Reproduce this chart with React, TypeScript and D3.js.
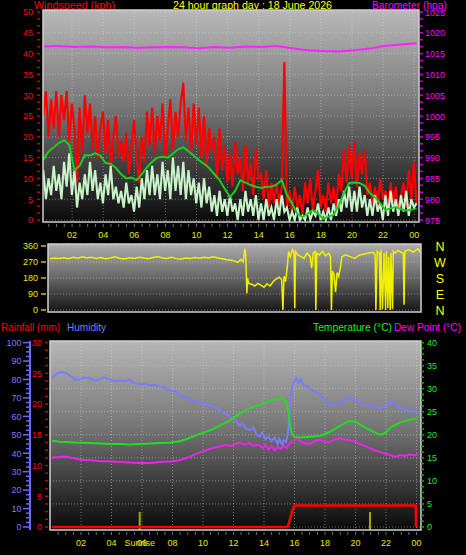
import React from "react";
import * as d3 from "d3";

// ---------- DATA ----------
// Top panel, 10-minute samples starting 00:09
const GUST_KPH = [
  25, 31, 20, 29, 22, 31, 20, 30, 24, 31, 19, 28, 22, 9, 27, 16, 30, 21,
  28, 17, 25, 15, 22, 26, 16, 24, 12, 20, 25, 15, 19, 14, 21, 11, 18, 24,
  15, 9, 20, 14, 26, 18, 27, 16, 25, 19, 28, 15, 22, 29, 17, 26, 20, 28,
  33, 19, 27, 16, 28, 18, 27, 15, 25, 13, 22, 17, 20, 10, 22, 12, 18, 9,
  16, 8, 19, 11, 15, 7, 18, 9, 14, 6, 17, 10, 11, 5, 12, 3, 9, 4,
  9, 4, 8, 38, 3, 7, 2, 8, 3, 6, 1, 9, 4, 10, 2, 7, 12, 3,
  6, 2, 9, 4, 8, 3, 11, 7, 17, 9, 18, 10, 19, 8, 16, 11, 17, 6,
  9, 4, 8, 3, 10, 5, 7, 3, 9, 4, 8, 2, 6, 9, 3, 12, 5, 14, 4,
];
const SPEED_KPH = [
  12, 5, 10, 6, 13, 7, 11, 5, 14, 8, 16, 6, 12, 3, 9, 5, 11, 6,
  14, 7, 12, 5, 9, 4, 11, 6, 13, 5, 8, 4, 7, 3, 9, 4, 6, 2,
  8, 3, 10, 5, 12, 6, 13, 6, 11, 5, 14, 7, 12, 5, 15, 7, 13, 6,
  14, 5, 12, 6, 10, 4, 9, 3, 10, 4, 8, 2, 6, 1, 7, 2, 5, 1,
  6, 2, 4, 0, 5, 1, 7, 2, 5, 1, 6, 0, 4, 0, 5, 1, 3, 0,
  5, 1, 6, 2, 3, 0, 2, 0, 3, 0, 1, 0, 3, 0, 2, 1, 4, 0,
  2, 0, 3, 0, 4, 1, 5, 2, 7, 3, 8, 2, 7, 2, 8, 3, 6, 1,
  5, 1, 6, 2, 4, 0, 6, 1, 7, 2, 5, 1, 6, 2, 7, 1, 5, 3, 4,
];
// 20-minute samples
const AVG_KPH = [
  14.5, 16.5, 17.5, 18.5, 19.2, 18, 12, 13, 15.6, 15.5,
  16, 15.5, 13.7, 13.5, 12.5, 11, 10, 10.2, 9.6, 11,
  12.7, 14, 15, 15.2, 15, 16, 17, 17.5, 16.5, 15.5,
  14.4, 13.5, 12.5, 11, 9.6, 7.5, 5.5, 7, 9.6, 9,
  8.4, 8, 7.7, 8, 8, 8.5, 9.6, 6, 4, 1.5,
  0.7, 1.5, 2.4, 1.5, 0.3, 0.8, 1.2, 3.5, 6.5, 8.9,
  9, 8.9, 8.2, 6.5, 5.5, 4, 2.4, 2.8, 3.1, 2.6,
  2.3, 2.5, 2.8,
];
// hourly
const BARO_HPA = [
  1016.7, 1016.8, 1016.6, 1016.7, 1016.5, 1016.6, 1016.4, 1016.5, 1016.6,
  1016.5, 1016.3, 1016.6, 1016.4, 1016.7, 1016.6, 1016.8, 1016.3, 1015.8,
  1015.6, 1015.5, 1015.8, 1016.2, 1016.9, 1017.2, 1017.5,
];
// [hour, degrees]
const WIND_DIR: [number, number][] = [
  [0, 288], [0.3, 292], [0.6, 290], [0.9, 294], [1.2, 289], [1.5, 296], [1.8, 291],
  [2.1, 300], [2.4, 292], [2.7, 297], [3.0, 290], [3.3, 295], [3.6, 288], [3.9, 293],
  [4.2, 299], [4.5, 291], [4.8, 287], [5.2, 294], [5.5, 290], [5.8, 296], [6.1, 292],
  [6.4, 289], [6.7, 295], [7.0, 301], [7.3, 292], [7.6, 290], [7.9, 296], [8.2, 289],
  [8.5, 286], [8.8, 292], [9.1, 290], [9.4, 295], [9.7, 291], [10.0, 297], [10.3, 292],
  [10.6, 300], [10.9, 293], [11.2, 288], [11.5, 283], [11.8, 280], [12.0, 275],
  [12.2, 268], [12.4, 285], [12.55, 270], [12.66, 345], [12.72, 300], [12.79, 95],
  [12.83, 180], [12.9, 150], [13.1, 145], [13.3, 135], [13.5, 150], [13.7, 140],
  [13.9, 128], [14.1, 148], [14.3, 135], [14.5, 160], [14.7, 175], [14.9, 185],
  [15.05, 170], [15.13, 0], [15.2, 190], [15.3, 160], [15.4, 230], [15.5, 330],
  [15.6, 300], [15.75, 340], [15.85, 320], [15.9, 10], [15.95, 330], [16.1, 310],
  [16.3, 300], [16.5, 290], [16.7, 320], [16.9, 300], [17.0, 235], [17.1, 320],
  [17.22, 330], [17.27, 0], [17.33, 320], [17.5, 310], [17.7, 330], [17.9, 305],
  [18.1, 320], [18.22, 300], [18.28, 0], [18.35, 220], [18.45, 200], [18.55, 100],
  [18.65, 210], [18.75, 190], [18.85, 230], [18.96, 300], [19.2, 310], [19.5, 300],
  [19.8, 290], [20.1, 310], [20.4, 315], [20.7, 320], [21.0, 325], [21.12, 310],
  [21.17, 0], [21.25, 330], [21.4, 320], [21.45, 0], [21.5, 340], [21.6, 5],
  [21.7, 320], [21.8, 0], [21.85, 330], [21.95, 10], [22.0, 300], [22.1, 0],
  [22.15, 320], [22.25, 5], [22.3, 330], [22.4, 320], [22.6, 335], [22.8, 325],
  [22.95, 320], [23.0, 30], [23.05, 330], [23.3, 340], [23.6, 325], [23.9, 345],
  [24.1, 320],
];
// Bottom panel [hour, value]
const HUMIDITY: [number, number][] = [
  [0.1, 81], [0.4, 83], [0.7, 84], [1.0, 83.5], [1.3, 82], [1.6, 80], [1.9, 80],
  [2.2, 81], [2.6, 80.5], [2.9, 79.5], [3.2, 80], [3.5, 81], [3.9, 80], [4.2, 79],
  [4.5, 79.5], [4.9, 79], [5.2, 80], [5.5, 78], [5.9, 77.5], [6.2, 77.5], [6.5, 77],
  [6.9, 77], [7.2, 76], [7.5, 75.5], [7.8, 74], [8.2, 73.5], [8.5, 71.5], [8.8, 70.5],
  [9.2, 69], [9.5, 68.5], [9.8, 67], [10.1, 67.5], [10.5, 65.5], [10.8, 65],
  [11.1, 63.5], [11.4, 62], [11.8, 59.5], [12.1, 58], [12.4, 55], [12.6, 56],
  [12.8, 53.5], [13.1, 52.5], [13.3, 54], [13.5, 50.5], [13.7, 49], [13.9, 51],
  [14.1, 47.5], [14.3, 49], [14.5, 46.5], [14.7, 48.5], [14.9, 45], [15.0, 48],
  [15.2, 44.5], [15.3, 47], [15.45, 46], [15.57, 51], [15.7, 65], [15.84, 77],
  [16.0, 79], [16.1, 81], [16.25, 78.5], [16.4, 80], [16.6, 77], [16.8, 76.5],
  [17.0, 75], [17.2, 74], [17.4, 73.5], [17.7, 71.5], [18.0, 69], [18.3, 66],
  [18.5, 67.5], [18.7, 66], [19.0, 68.5], [19.3, 69], [19.6, 70], [19.9, 69],
  [20.3, 67.5], [20.6, 66.5], [20.95, 66], [21.3, 65], [21.6, 64.5], [22.0, 65.5],
  [22.3, 68.5], [22.6, 67], [22.9, 64.5], [23.2, 64], [23.6, 62.5], [23.9, 63],
  [24.1, 62.5],
];
const TEMP_C: [number, number][] = [
  [0.1, 18.7], [0.6, 18.5], [1.3, 18.4], [1.9, 18.3], [2.6, 18.2], [3.2, 18.1],
  [3.9, 18.0], [4.6, 18.0], [5.2, 17.9], [5.9, 18.0], [6.5, 18.1], [7.2, 18.2],
  [7.8, 18.3], [8.5, 18.6], [9.1, 19.3], [9.8, 20.2], [10.5, 21.0], [11.1, 22.0],
  [11.8, 23.2], [12.4, 24.6], [13.1, 25.8], [13.7, 26.5], [14.4, 27.4], [14.8, 27.8],
  [15.05, 28.0], [15.3, 27.8], [15.5, 27.0], [15.65, 23.5], [15.8, 20.5], [16.0, 19.5],
  [16.4, 19.4], [17.0, 19.6], [17.7, 19.8], [18.3, 20.6], [19.0, 22.0], [19.6, 23.0],
  [20.0, 22.8], [20.3, 22.2], [20.95, 21.0], [21.6, 20.0], [22.0, 20.5], [22.3, 21.6],
  [22.9, 22.7], [23.6, 23.3], [24.1, 23.4],
];
const DEW_C: [number, number][] = [
  [0.1, 15.0], [0.5, 15.2], [1.0, 15.3], [1.5, 14.9], [2.0, 14.6], [2.6, 14.5],
  [3.2, 14.3], [3.9, 14.2], [4.6, 14.1], [5.2, 14.0], [5.9, 13.9], [6.5, 13.9],
  [7.2, 14.1], [7.8, 14.2], [8.5, 14.5], [9.1, 15.2], [9.8, 16.2], [10.5, 17.0],
  [11.1, 17.5], [11.5, 17.8], [11.8, 17.6], [12.1, 18.0], [12.4, 18.3], [12.7, 17.9],
  [13.0, 18.2], [13.3, 17.6], [13.6, 17.9], [13.9, 17.2], [14.1, 17.8], [14.3, 16.8],
  [14.5, 17.5], [14.7, 16.6], [14.9, 17.4], [15.1, 16.9], [15.3, 17.6], [15.5, 17.1],
  [15.7, 18.2], [15.9, 18.6], [16.1, 19.0], [16.4, 18.6], [16.7, 18.1], [17.0, 18.0],
  [17.3, 18.6], [17.7, 18.9], [18.0, 18.5], [18.3, 18.4], [18.6, 18.9], [19.0, 19.3],
  [19.3, 19.0], [19.6, 18.9], [20.0, 18.5], [20.3, 18.0], [20.6, 17.6], [20.95, 17.1],
  [21.3, 16.6], [21.6, 16.3], [22.0, 15.9], [22.3, 15.6], [22.6, 15.2], [22.9, 15.6],
  [23.2, 15.4], [23.6, 15.7], [23.9, 15.5], [24.1, 15.8],
];
const RAIN_MM: [number, number][] = [
  [0.1, 0], [15.55, 0], [15.7, 1.2], [15.85, 2.6], [16.0, 3.5], [23.95, 3.5], [23.97, 0],
];
const SUN_EVENTS = [5.85, 20.95];

const HOUR_TICKS = [2, 4, 6, 8, 10, 12, 14, 16, 18, 20, 22, 24];
const HOUR_LABELS = ["02", "04", "06", "08", "10", "12", "14", "16", "18", "20", "22", "00"];
const WIND_TICKS = [0, 5, 10, 15, 20, 25, 30, 35, 40, 45, 50];
const BARO_TICKS = [975, 980, 985, 990, 995, 1000, 1005, 1010, 1015, 1020, 1025];
const DIR_TICKS = [0, 90, 180, 270, 360];
const DIR_LETTERS = ["N", "E", "S", "W", "N"];
const HUM_TICKS = [0, 10, 20, 30, 40, 50, 60, 70, 80, 90, 100];
const RAIN_TICKS = [0, 5, 10, 15, 20, 25, 30];
const TEMP_TICKS = [0, 5, 10, 15, 20, 25, 30, 35, 40];

const FONT = "'Liberation Sans', Arial, sans-serif";
const YEL = "#e8e800";

export default function App() {
  // ---------- TOP PANEL ----------
  const top = { l: 43, r: 419, t: 10, b: 222 };
  const xT = d3.scaleLinear().domain([0, 24]).range([41, 414.2]);
  const yW = d3.scaleLinear().domain([0, 50]).range([220, 12]);
  const yP = d3.scaleLinear().domain([975, 1025]).range([220, 12]);
  const t10 = (i: number) => 0.15 + i / 6;
  const t20 = (i: number) => 0.15 + i / 3;
  const t60 = (i: number) => 0.15 + i;

  const gustPath = d3.line<number>().x((_, i) => xT(t10(i))).y((d) => yW(d))(GUST_KPH) || "";
  const speedPath = d3.line<number>().x((_, i) => xT(t10(i))).y((d) => yW(d))(SPEED_KPH) || "";
  const avgPath = d3.line<number>().x((_, i) => xT(t20(i))).y((d) => yW(d))(AVG_KPH) || "";
  const baroPath = d3.line<number>().x((_, i) => xT(t60(i))).y((d) => yP(d))(BARO_HPA) || "";

  // ---------- MIDDLE PANEL ----------
  const mid = { l: 48, r: 421, t: 244, b: 312 };
  const xM = d3.scaleLinear().domain([0, 24.1]).range([50, 421]);
  const yD = d3.scaleLinear().domain([0, 360]).range([310, 246]);
  const dirPath = d3.line<[number, number]>().x((d) => xM(d[0])).y((d) => yD(d[1]))(WIND_DIR) || "";

  // ---------- BOTTOM PANEL ----------
  const bot = { l: 50, r: 421, t: 341, b: 530 };
  const xB = d3.scaleLinear().domain([0, 24]).range([50.5, 416.5]);
  const yH = d3.scaleLinear().domain([0, 100]).range([527, 342.6]);
  const yR = d3.scaleLinear().domain([0, 30]).range([527, 342.6]);
  const yC = d3.scaleLinear().domain([0, 40]).range([527, 342.6]);
  const pl = (s: (v: number) => number) =>
    d3.line<[number, number]>().x((d) => xB(d[0])).y((d) => s(d[1]));
  const humPath = pl(yH)(HUMIDITY) || "";
  const tempPath = pl(yC)(TEMP_C) || "";
  const dewPath = pl(yC)(DEW_C) || "";
  const rainPath = pl(yR)(RAIN_MM) || "";

  const gridStroke = "rgba(225,225,225,0.45)";
  const halfHours = d3.range(0.5, 24.01, 0.5);

  return (
    <svg
      width={466}
      height={555}
      style={{ position: "absolute", left: 0, top: 0, background: "#000", display: "block" }}
      fontFamily={FONT}
    >
      <defs>
        <linearGradient id="gT" x1="0" y1="0" x2="0" y2="1">
          <stop offset="0" stopColor="#b8b8b8" />
          <stop offset="0.45" stopColor="#787878" />
          <stop offset="0.8" stopColor="#323232" />
          <stop offset="1" stopColor="#0a0a0a" />
        </linearGradient>
        <linearGradient id="gM" x1="0" y1="0" x2="0" y2="1">
          <stop offset="0" stopColor="#adadad" />
          <stop offset="0.5" stopColor="#666" />
          <stop offset="1" stopColor="#141414" />
        </linearGradient>
        <linearGradient id="gB" x1="0" y1="0" x2="0" y2="1">
          <stop offset="0" stopColor="#b6b6b6" />
          <stop offset="0.45" stopColor="#777" />
          <stop offset="0.8" stopColor="#303030" />
          <stop offset="1" stopColor="#0a0a0a" />
        </linearGradient>
        <clipPath id="cT"><rect x={top.l} y={top.t} width={top.r - top.l} height={top.b - top.t} /></clipPath>
        <clipPath id="cM"><rect x={mid.l} y={mid.t} width={mid.r - mid.l} height={mid.b - mid.t} /></clipPath>
        <clipPath id="cB"><rect x={bot.l} y={bot.t} width={bot.r - bot.l} height={bot.b - bot.t} /></clipPath>
      </defs>
      <rect x={0} y={0} width={466} height={555} fill="#000" />

      {/* ===== Headers ===== */}
      <text x={34} y={9} fontSize={11} fill="#ff0000" textLength={81} lengthAdjust="spacingAndGlyphs">Windspeed (kph)</text>
      <text x={173} y={9} fontSize={11} fill="#ffff00" textLength={159} lengthAdjust="spacingAndGlyphs">24 hour graph day : 18 June 2026</text>
      <text x={372} y={9} fontSize={11} fill="#ff00ff" textLength={75} lengthAdjust="spacingAndGlyphs">Barometer (hpa)</text>

      {/* ===== TOP PANEL ===== */}
      <rect x={top.l} y={top.t} width={top.r - top.l} height={top.b - top.t} fill="url(#gT)" />
      <g clipPath="url(#cT)">
        {WIND_TICKS.map((v) => (
          <line key={"hg" + v} x1={top.l} x2={top.r} y1={yW(v)} y2={yW(v)} stroke={gridStroke} strokeDasharray="1 2" />
        ))}
        {HOUR_TICKS.map((h) => (
          <line key={"vg" + h} x1={xT(h)} x2={xT(h)} y1={top.t} y2={top.b} stroke={gridStroke} strokeDasharray="1 2" />
        ))}
        <path d={gustPath} fill="none" stroke="#ff0000" strokeWidth={2.1} />
        <path d={speedPath} fill="none" stroke="#c8f2c8" strokeWidth={2.1} />
        <path d={avgPath} fill="none" stroke="#1ecb1e" strokeWidth={2} />
        <path d={baroPath} fill="none" stroke="#ff22ff" strokeWidth={2} />
      </g>
      <rect x={top.l} y={top.t} width={top.r - top.l} height={top.b - top.t} fill="none" stroke="#cfcfcf" strokeWidth={1.5} />
      {/* left axis */}
      {d3.range(0, 50.01, 5 / 3).map((v, i) => (
        <line key={"lt" + i} x1={37} x2={40} y1={yW(v)} y2={yW(v)} stroke="#d00000" strokeWidth={1.5} />
      ))}
      {WIND_TICKS.map((v) => (
        <text key={"ll" + v} x={33} y={yW(v) + 3.3} fontSize={9} fill="#ff0000" textAnchor="end">{v}</text>
      ))}
      {/* right axis */}
      {d3.range(975, 1025.01, 5 / 3).map((v, i) => (
        <line key={"rt" + i} x1={420} x2={423} y1={yP(v)} y2={yP(v)} stroke="#d000d0" strokeWidth={1.5} />
      ))}
      {BARO_TICKS.map((v) => (
        <text key={"rl" + v} x={425} y={yP(v) + 3.5} fontSize={9} fill="#ff00ff">{v}</text>
      ))}
      {/* x axis */}
      {halfHours.map((h, i) => (
        <line key={"xt" + i} x1={xT(h)} x2={xT(h)} y1={224} y2={227} stroke="#707070" />
      ))}
      {HOUR_TICKS.map((h, i) => (
        <text key={"xl" + h} x={xT(h)} y={237.5} fontSize={9} fill={YEL} textAnchor="middle">{HOUR_LABELS[i]}</text>
      ))}

      {/* ===== MIDDLE PANEL ===== */}
      <rect x={mid.l} y={mid.t} width={mid.r - mid.l} height={mid.b - mid.t} fill="url(#gM)" />
      <g clipPath="url(#cM)">
        {DIR_TICKS.map((v) => (
          <line key={"mg" + v} x1={mid.l} x2={mid.r} y1={yD(v)} y2={yD(v)} stroke={gridStroke} strokeDasharray="1 2" />
        ))}
        <path d={dirPath} fill="none" stroke="#f0f000" strokeWidth={1.5} />
      </g>
      <rect x={mid.l} y={mid.t} width={mid.r - mid.l} height={mid.b - mid.t} fill="none" stroke="#cfcfcf" strokeWidth={1.5} />
      {DIR_TICKS.map((v) => (
        <line key={"mt" + v} x1={41} x2={46} y1={yD(v)} y2={yD(v)} stroke="#c8c800" strokeWidth={1.5} />
      ))}
      {DIR_TICKS.map((v) => (
        <text key={"ml" + v} x={38} y={yD(v) + 3.3} fontSize={9} fill={YEL} textAnchor="end">{v}</text>
      ))}
      {DIR_TICKS.map((v, i) => (
        <text key={"md" + v} x={440} y={yD(v) + 4.5} fontSize={12.5} fill="#ffff00" textAnchor="middle">{DIR_LETTERS[i]}</text>
      ))}

      {/* ===== BOTTOM PANEL ===== */}
      <text x={1} y={331} fontSize={11} fill="#ff0000" textLength={59} lengthAdjust="spacingAndGlyphs">Rainfall (mm)</text>
      <text x={67} y={331} fontSize={11} fill="#7b7bff" textLength={39} lengthAdjust="spacingAndGlyphs">Humidity</text>
      <text x={313} y={331} fontSize={11} fill="#22ee22" textLength={79} lengthAdjust="spacingAndGlyphs">Temperature (°C)</text>
      <text x={394} y={331} fontSize={11} fill="#ff00ff" textLength={67} lengthAdjust="spacingAndGlyphs">Dew Point (°C)</text>

      <rect x={bot.l} y={bot.t} width={bot.r - bot.l} height={bot.b - bot.t} fill="url(#gB)" />
      <g clipPath="url(#cB)">
        {TEMP_TICKS.map((v) => (
          <line key={"bg" + v} x1={bot.l} x2={bot.r} y1={yC(v)} y2={yC(v)} stroke={gridStroke} strokeDasharray="1 2" />
        ))}
        {HOUR_TICKS.map((h) => (
          <line key={"bvg" + h} x1={xB(h)} x2={xB(h)} y1={bot.t} y2={bot.b} stroke={gridStroke} strokeDasharray="1 2" />
        ))}
        {SUN_EVENTS.map((h) => (
          <line key={"sun" + h} x1={xB(h)} x2={xB(h)} y1={512} y2={530} stroke="#a8a800" strokeWidth={2} />
        ))}
        <path d={humPath} fill="none" stroke="#7b7bff" strokeWidth={2} />
        <path d={tempPath} fill="none" stroke="#22dd22" strokeWidth={2} />
        <path d={dewPath} fill="none" stroke="#ee22ee" strokeWidth={2} />
        <path d={rainPath} fill="none" stroke="#ff0000" strokeWidth={2.5} />
      </g>
      <rect x={bot.l} y={bot.t} width={bot.r - bot.l} height={bot.b - bot.t} fill="none" stroke="#cfcfcf" strokeWidth={1.5} />
      {/* humidity axis */}
      <line x1={30} x2={30} y1={bot.t} y2={bot.b} stroke="#6a6aff" strokeWidth={2} />
      {d3.range(0, 100.01, 2.5).map((v, i) => (
        <line key={"ht" + i} x1={v % 10 === 0 ? 23 : 26} x2={29} y1={yH(v)} y2={yH(v)} stroke="#6a6aff" strokeWidth={1.5} />
      ))}
      {HUM_TICKS.map((v) => (
        <text key={"hl" + v} x={21.5} y={yH(v) + 3.3} fontSize={9} fill="#7b7bff" textAnchor="end">{v}</text>
      ))}
      {/* rain axis */}
      {d3.range(0, 30.01, 1.25).map((v, i) => (
        <line key={"rnt" + i} x1={45} x2={48} y1={yR(v)} y2={yR(v)} stroke="#d00000" strokeWidth={1.5} />
      ))}
      {RAIN_TICKS.map((v) => (
        <text key={"rnl" + v} x={42} y={yR(v) + 3.3} fontSize={9} fill="#ff0000" textAnchor="end">{v}</text>
      ))}
      {/* temperature axis */}
      {d3.range(0, 40.01, 1.25).map((v, i) => (
        <line key={"tt" + i} x1={421} x2={424} y1={yC(v)} y2={yC(v)} stroke="#10b010" strokeWidth={1.5} />
      ))}
      {TEMP_TICKS.map((v) => (
        <text key={"tl" + v} x={427} y={yC(v) + 3.3} fontSize={9} fill="#22ee22">{v}</text>
      ))}
      {/* x axis */}
      {halfHours.map((h, i) => (
        <line key={"bxt" + i} x1={xB(h)} x2={xB(h)} y1={532} y2={535} stroke="#707070" />
      ))}
      {HOUR_TICKS.map((h, i) => (
        <text key={"bxl" + h} x={xB(h)} y={546} fontSize={9} fill={YEL} textAnchor="middle">{HOUR_LABELS[i]}</text>
      ))}
      <text x={xB(SUN_EVENTS[0])} y={546} fontSize={9} fill={YEL} textAnchor="middle">Sunrise</text>
    </svg>
  );
}
